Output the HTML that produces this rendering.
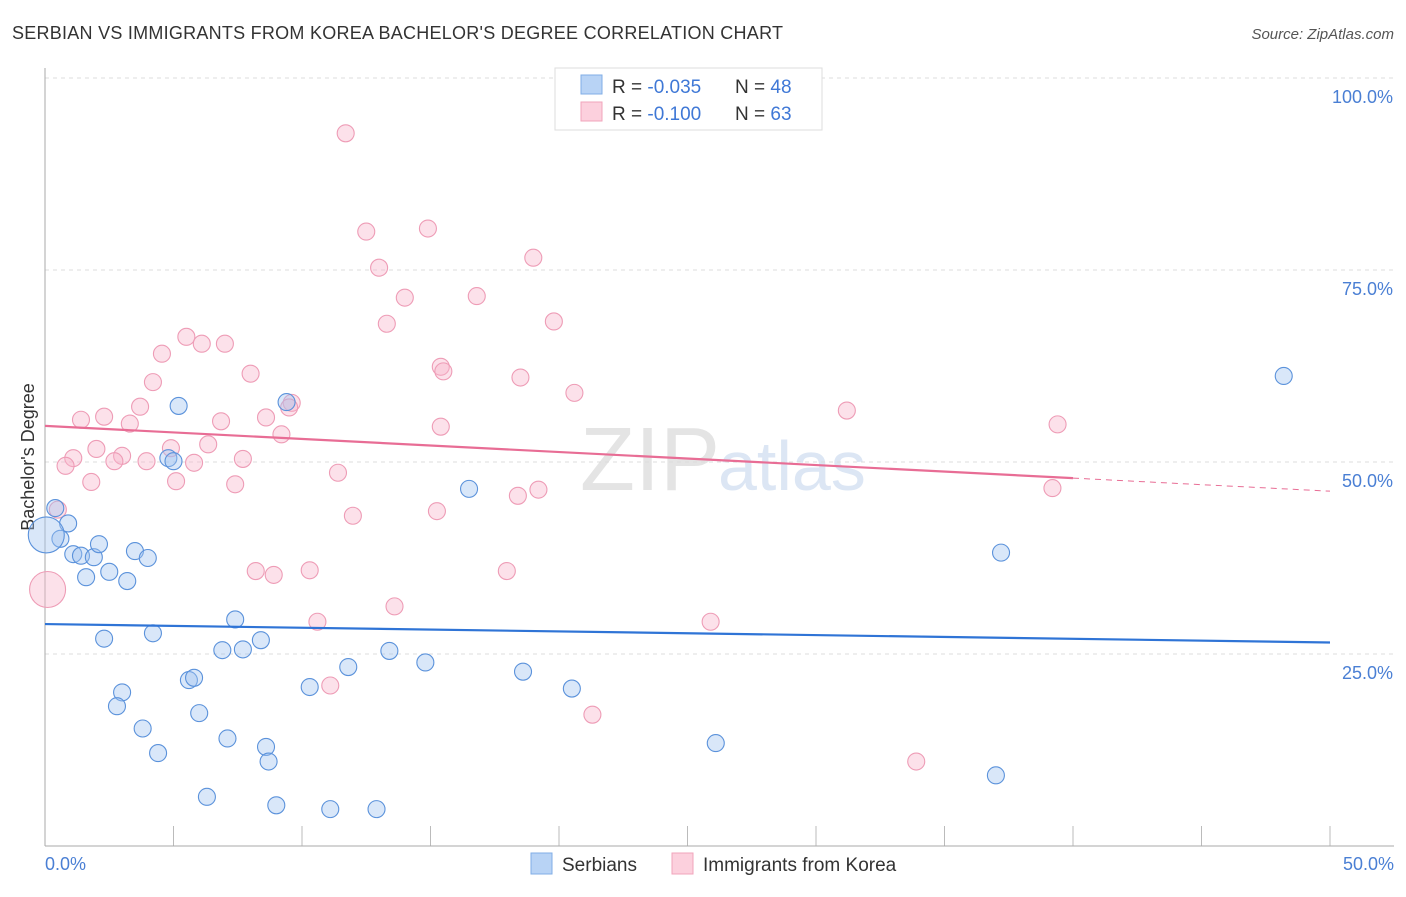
<!DOCTYPE html>
<html><head><meta charset="utf-8"><style>
body{margin:0;background:#fff;font-family:"Liberation Sans",sans-serif;}
svg text{font-family:"Liberation Sans",sans-serif;}
</style></head><body>
<svg id="c" width="1406" height="892" xmlns="http://www.w3.org/2000/svg">
<text x="12" y="39" font-size="18" fill="#333" textLength="771">SERBIAN VS IMMIGRANTS FROM KOREA BACHELOR'S DEGREE CORRELATION CHART</text>
<text x="1394" y="39" font-size="15" fill="#555" font-style="italic" text-anchor="end">Source: ZipAtlas.com</text>
<text x="720" y="490" font-size="90" fill="#e4e4e4" text-anchor="end" font-family="Liberation Serif">ZIP</text>
<text x="718" y="490" font-size="70" fill="#dce6f4">atlas</text>
<g id="grid"></g>
<line x1="45" y1="68" x2="45" y2="846" stroke="#aaa"/>
<line x1="45" y1="846" x2="1394" y2="846" stroke="#aaa"/>
<text transform="translate(34,457) rotate(-90)" font-size="18" fill="#333" text-anchor="middle">Bachelor's Degree</text>
<text x="45" y="870" font-size="18" fill="#4a7fd4">0.0%</text>
<text x="1394" y="870" font-size="18" fill="#4a7fd4" text-anchor="end">50.0%</text>
<g id="pts"></g>
<g>
<rect x="555" y="68" width="267" height="62" fill="#fff" stroke="#ddd"/>
<rect x="581" y="75" width="21" height="19" fill="#b8d3f5" stroke="#80aee6"/>
<rect x="581" y="102" width="21" height="19" fill="#fcd0dd" stroke="#f1a4bb"/>
<text x="612" y="93" font-size="19" fill="#333">R = <tspan fill="#3f78d6">-0.035</tspan><tspan x="735">N = </tspan><tspan fill="#3f78d6">48</tspan></text>
<text x="612" y="120" font-size="19" fill="#333">R = <tspan fill="#3f78d6"> -0.100</tspan><tspan x="735">N = </tspan><tspan fill="#3f78d6">63</tspan></text>
</g>
<g>
<rect x="531" y="853" width="21" height="21" fill="#b8d3f5" stroke="#80aee6"/>
<text x="562" y="871" font-size="19" fill="#333">Serbians</text>
<rect x="672" y="853" width="21" height="21" fill="#fcd0dd" stroke="#f1a4bb"/>
<text x="703" y="871" font-size="19" fill="#333">Immigrants from Korea</text>
</g>
</svg>
<script>
const yTicks=[25,50,75,100];
const yTickLabels=["25.0%","50.0%","75.0%","100.0%"];
const serbX=[0.4,0.9,0.6,1.1,1.4,1.9,2.1,1.6,2.5,3.2,3.5,4.0,5.2,4.8,5.0,2.3,4.2,3.0,2.8,3.8,4.4,5.6,5.8,6.0,7.1,6.3,6.9,7.4,7.7,8.4,8.6,8.7,9.0,9.4,10.3,11.1,11.8,12.9,13.4,14.8,16.5,18.6,20.5,26.1,37.2,37.0,48.2,0.05];
const serbY=[44,42,40,38,37.8,37.6,39.3,35,35.7,34.5,38.4,37.5,57.3,50.5,50.1,27,27.7,20,18.2,15.3,12.1,21.6,21.9,17.3,14,6.4,25.5,29.5,25.6,26.8,12.9,11,5.3,57.8,20.7,4.8,23.3,4.8,25.4,23.9,46.5,22.7,20.5,13.4,38.2,9.2,61.2,40.5];
const korX=[11.7,12.5,14.9,13.0,19.0,14.0,16.8,13.3,19.8,5.5,6.1,7.0,4.55,8.0,4.2,15.4,15.5,18.5,20.6,9.6,9.5,3.7,1.4,2.3,3.3,6.85,8.6,31.2,39.4,9.2,15.4,2.0,3.0,4.9,6.35,1.1,0.8,2.7,3.95,5.8,7.7,1.8,5.1,7.4,11.4,18.4,19.2,39.2,0.5,11.98,15.25,8.2,8.9,10.3,17.97,13.6,10.6,25.9,11.1,21.3,33.9,0.1];
const korY=[92.8,80,80.4,75.3,76.6,71.4,71.6,68,68.3,66.3,65.4,65.4,64.1,61.5,60.4,62.4,61.8,61,59,57.7,57.1,57.2,55.5,55.9,55,55.3,55.8,56.7,54.9,53.6,54.6,51.7,50.8,51.8,52.3,50.5,49.5,50.1,50.1,49.9,50.4,47.4,47.5,47.1,48.6,45.6,46.4,46.6,43.8,43,43.6,35.8,35.3,35.9,35.8,31.2,29.2,29.2,20.9,17.1,11,33.4];
const xs=v=>45+v/50*1285, ys=v=>846-v/100*768;
const NS="http://www.w3.org/2000/svg";
const grid=document.getElementById('grid'), pts=document.getElementById('pts');
yTicks.forEach((t,i)=>{
 const l=document.createElementNS(NS,'line');
 l.setAttribute('x1',45);l.setAttribute('x2',1394);l.setAttribute('y1',ys(t));l.setAttribute('y2',ys(t));
 l.setAttribute('stroke','#ddd');l.setAttribute('stroke-dasharray','4,4');
 
 
 grid.appendChild(l);
 const tx=document.createElementNS(NS,'text');
 tx.setAttribute('x',1393);tx.setAttribute('y',ys(t)+25);tx.setAttribute('text-anchor','end');
 tx.setAttribute('font-size','18');tx.setAttribute('fill','#4a7fd4');tx.textContent=yTickLabels[i];
 
 
 grid.appendChild(tx);
});
for(let i=0;i<=10;i++){
 const l=document.createElementNS(NS,'line');const x=xs(i*5);
 l.setAttribute('x1',x);l.setAttribute('x2',x);l.setAttribute('y1',826);l.setAttribute('y2',846);l.setAttribute('stroke','#bbb');
 
 
 grid.appendChild(l);
}
function dot(x,y,r,fill,stroke,name){
 const c=document.createElementNS(NS,'circle');
 c.setAttribute('cx',xs(x));c.setAttribute('cy',ys(y));c.setAttribute('r',r);
 c.setAttribute('fill',fill);c.setAttribute('stroke',stroke);c.setAttribute('stroke-width','1.1');
 
 
 pts.appendChild(c);
}
korX.forEach((x,i)=>dot(x,korY[i],i==korX.length-1?18:8.5,'rgba(248,180,202,0.4)','#ee9cb6','korea-point'));
serbX.forEach((x,i)=>dot(x,serbY[i],i==serbX.length-1?18:8.5,'rgba(160,196,240,0.4)','#5b92db','serbian-point'));
function line(x1,x2,ab,col,dash,name){
 const l=document.createElementNS(NS,'line');
 l.setAttribute('x1',xs(x1));l.setAttribute('x2',xs(x2));l.setAttribute('y1',ys(ab[0]+ab[1]*x1));l.setAttribute('y2',ys(ab[0]+ab[1]*x2));
 l.setAttribute('stroke',col);l.setAttribute('stroke-width',dash?1:2.2);if(dash)l.setAttribute('stroke-dasharray','6,5');
 
 
 pts.appendChild(l);
}
const bf=[28.9,-0.048], kf=[54.7,-0.17];
line(0,50,bf,'#2f74d6',false,'serbian-trendline');
line(0,40,kf,'#e86d95',false,'korea-trendline');
line(40,50,kf,'#e86d95',true,'korea-trendline-extension');
</script>
</body></html>
